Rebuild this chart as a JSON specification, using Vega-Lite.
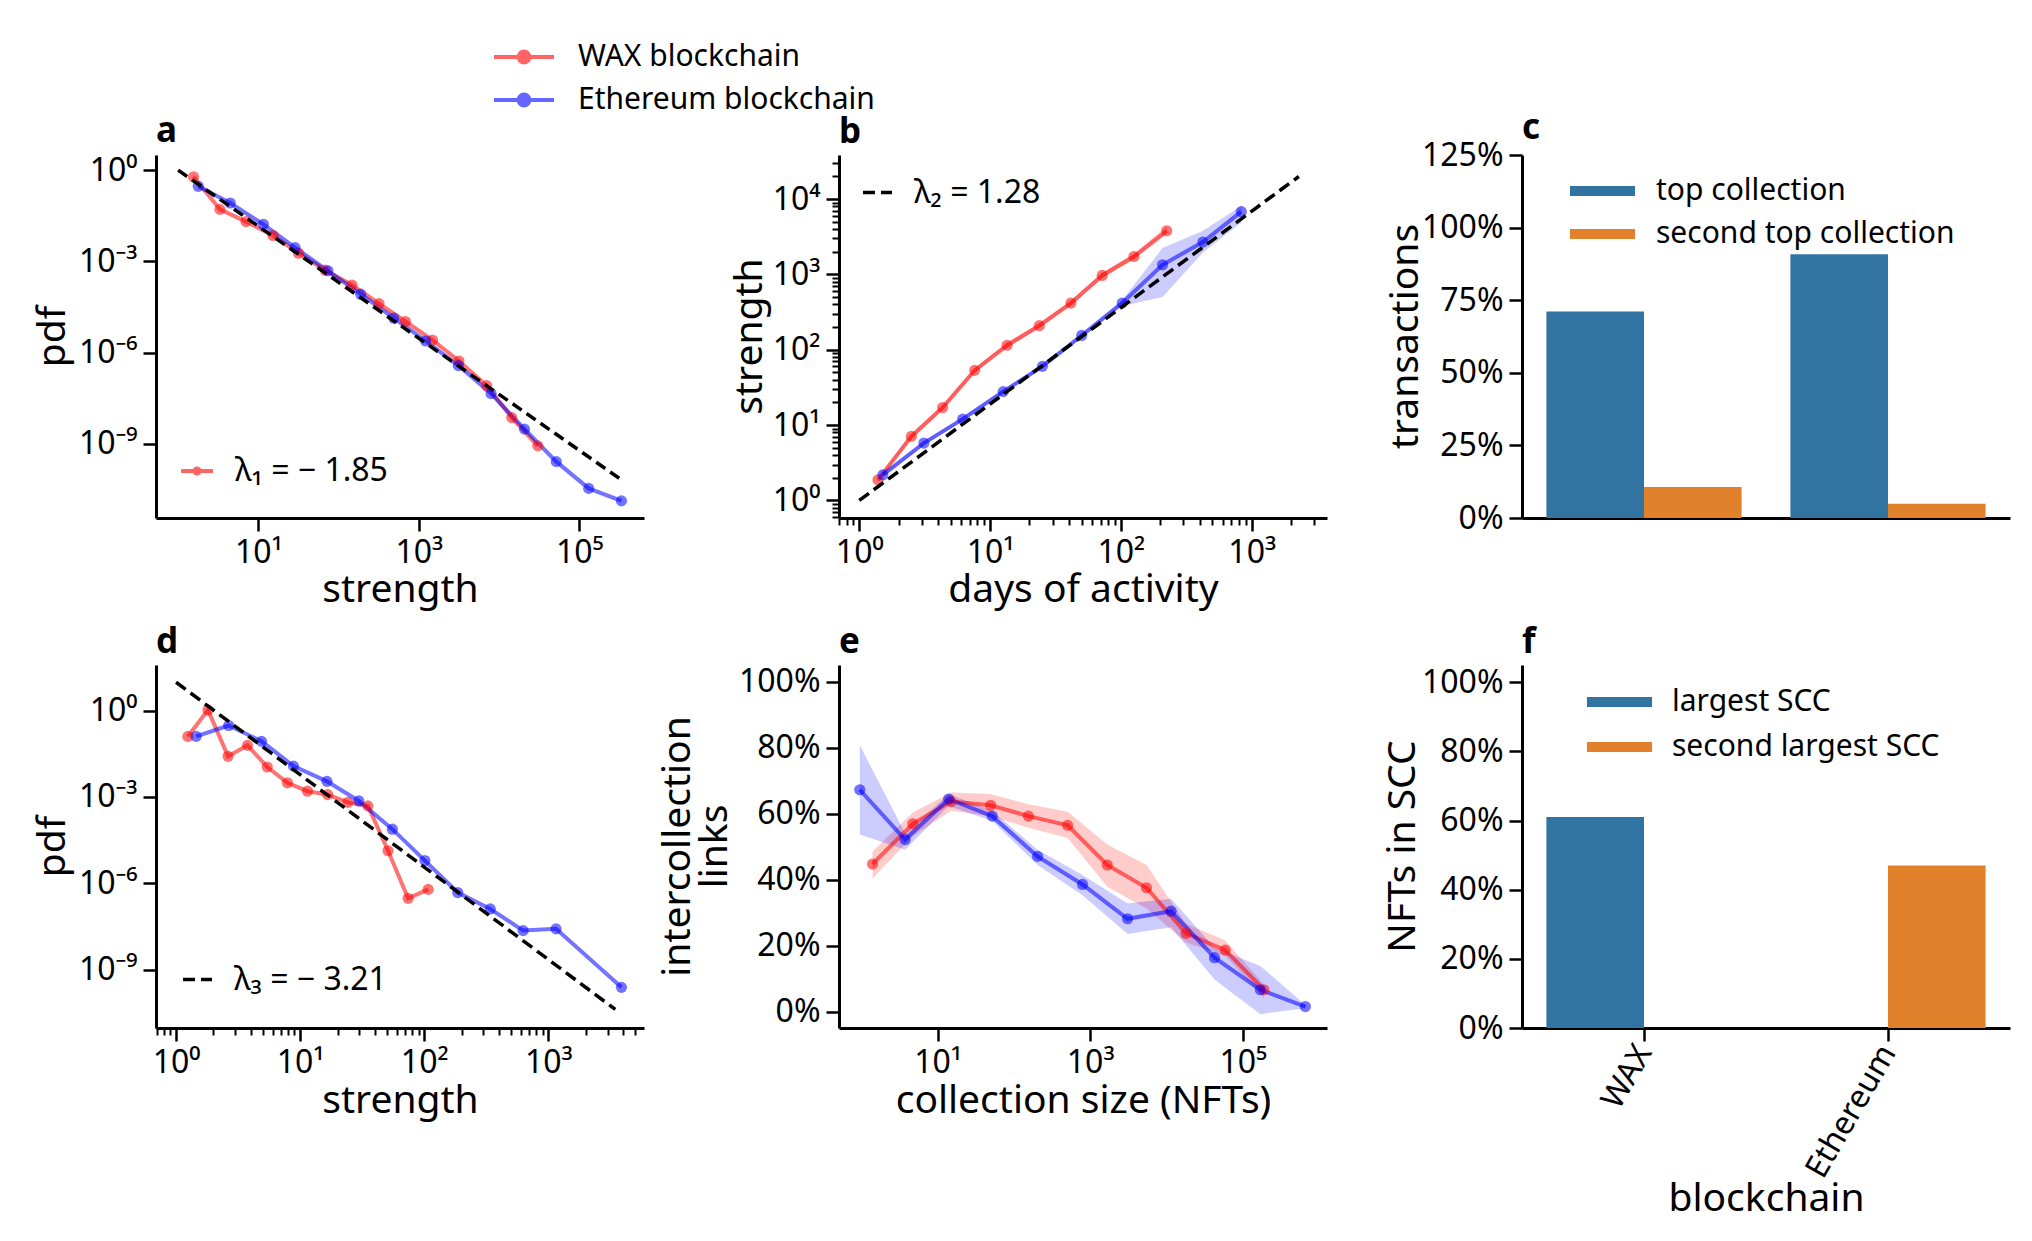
{
  "$schema": "https://vega.github.io/schema/vega-lite/v6.json",
  "padding": {"left": 33, "top": 40, "right": 20, "bottom": 26},
  "background": "white",
  "config": {
    "font": "Noto Sans",
    "view": {"stroke": null},
    "axis": {
      "grid": false,
      "domainColor": "#000",
      "domainWidth": 3,
      "tickColor": "#000",
      "tickWidth": 2.5,
      "tickSize": 13,
      "labelFontSize": 32,
      "labelColor": "#000",
      "labelPadding": 6,
      "labelOverlap": false,
      "labelFlush": false,
      "titleFontSize": 39,
      "titleFontWeight": "normal",
      "titleColor": "#000"
    },
    "legend": {
      "labelFontSize": 30,
      "labelColor": "#000",
      "labelLimit": 600,
      "padding": 0,
      "rowPadding": 4,
      "labelOffset": 20
    },
    "title": {"fontSize": 35, "fontWeight": "bold", "anchor": "start", "frame": "group", "offset": 5, "color": "#000"}
  },
  "datasets": {
    "a": [
      {"chain": "WAX blockchain", "x": 1.556, "y": 0.603},
      {"chain": "WAX blockchain", "x": 3.319, "y": 0.0513},
      {"chain": "WAX blockchain", "x": 7.015, "y": 0.0204},
      {"chain": "WAX blockchain", "x": 15.24, "y": 0.00708},
      {"chain": "WAX blockchain", "x": 31.62, "y": 0.00186},
      {"chain": "WAX blockchain", "x": 68.08, "y": 0.000513},
      {"chain": "WAX blockchain", "x": 146.9, "y": 0.000166},
      {"chain": "WAX blockchain", "x": 319.2, "y": 0.0000407},
      {"chain": "WAX blockchain", "x": 680.8, "y": 0.0000105},
      {"chain": "WAX blockchain", "x": 1483, "y": 2.57e-6},
      {"chain": "WAX blockchain", "x": 3162, "y": 5.25e-7},
      {"chain": "WAX blockchain", "x": 7015, "y": 8.13e-8},
      {"chain": "WAX blockchain", "x": 14390, "y": 7.24e-9},
      {"chain": "WAX blockchain", "x": 30410, "y": 8.51e-10},
      {"chain": "Ethereum blockchain", "x": 1.778, "y": 0.295},
      {"chain": "Ethereum blockchain", "x": 4.467, "y": 0.0832},
      {"chain": "Ethereum blockchain", "x": 11.55, "y": 0.0166},
      {"chain": "Ethereum blockchain", "x": 28.71, "y": 0.00282},
      {"chain": "Ethereum blockchain", "x": 73.62, "y": 0.00049},
      {"chain": "Ethereum blockchain", "x": 188.4, "y": 0.0000832},
      {"chain": "Ethereum blockchain", "x": 487.5, "y": 0.0000135},
      {"chain": "Ethereum blockchain", "x": 1211, "y": 2.4e-6},
      {"chain": "Ethereum blockchain", "x": 3105, "y": 3.72e-7},
      {"chain": "Ethereum blockchain", "x": 7943, "y": 4.47e-8},
      {"chain": "Ethereum blockchain", "x": 20750, "y": 3.02e-9},
      {"chain": "Ethereum blockchain", "x": 51640, "y": 2.57e-10},
      {"chain": "Ethereum blockchain", "x": 130900, "y": 3.39e-11},
      {"chain": "Ethereum blockchain", "x": 335000, "y": 1.32e-11}
    ],
    "a_fit": [
      {"label": "λ₁ = − 1.85", "x": 1, "y": 1},
      {"label": "λ₁ = − 1.85", "x": 335000, "y": 6.5e-11}
    ],
    "b": [
      {"chain": "WAX blockchain", "x": 1.39, "y": 1.875, "lo": 1.72, "hi": 2.04},
      {"chain": "WAX blockchain", "x": 2.5, "y": 7.08, "lo": 6.6, "hi": 7.6},
      {"chain": "WAX blockchain", "x": 4.335, "y": 17.1, "lo": 16.0, "hi": 18.3},
      {"chain": "WAX blockchain", "x": 7.62, "y": 53.3, "lo": 49.5, "hi": 57.5},
      {"chain": "WAX blockchain", "x": 13.49, "y": 114.8, "lo": 106, "hi": 124},
      {"chain": "WAX blockchain", "x": 23.77, "y": 208.9, "lo": 193, "hi": 226},
      {"chain": "WAX blockchain", "x": 41.5, "y": 416.9, "lo": 386, "hi": 450},
      {"chain": "WAX blockchain", "x": 71.9, "y": 970.4, "lo": 895, "hi": 1050},
      {"chain": "WAX blockchain", "x": 125.9, "y": 1730, "lo": 1580, "hi": 1900},
      {"chain": "WAX blockchain", "x": 223.9, "y": 3802, "lo": 3390, "hi": 4370},
      {"chain": "Ethereum blockchain", "x": 1.514, "y": 2.188, "lo": 2.05, "hi": 2.34},
      {"chain": "Ethereum blockchain", "x": 3.119, "y": 5.781, "lo": 5.45, "hi": 6.13},
      {"chain": "Ethereum blockchain", "x": 6.166, "y": 12.02, "lo": 11.3, "hi": 12.8},
      {"chain": "Ethereum blockchain", "x": 12.59, "y": 27.86, "lo": 26.2, "hi": 29.6},
      {"chain": "Ethereum blockchain", "x": 25.12, "y": 60.26, "lo": 56.5, "hi": 64.2},
      {"chain": "Ethereum blockchain", "x": 50.12, "y": 154.9, "lo": 145, "hi": 166},
      {"chain": "Ethereum blockchain", "x": 102.3, "y": 416.9, "lo": 380, "hi": 457},
      {"chain": "Ethereum blockchain", "x": 208.0, "y": 1343, "lo": 501, "hi": 2240},
      {"chain": "Ethereum blockchain", "x": 423.6, "y": 2692, "lo": 1950, "hi": 3802},
      {"chain": "Ethereum blockchain", "x": 831.8, "y": 6808, "lo": 4898, "hi": 8128}
    ],
    "b_fit": [
      {"label": "λ₂ = 1.28", "x": 1, "y": 1},
      {"label": "λ₂ = 1.28", "x": 2290, "y": 19950}
    ],
    "c": [
      {"chain": "WAX", "kind": "top collection", "v": 0.711},
      {"chain": "WAX", "kind": "second top collection", "v": 0.107},
      {"chain": "Ethereum", "kind": "top collection", "v": 0.908},
      {"chain": "Ethereum", "kind": "second top collection", "v": 0.049}
    ],
    "d": [
      {"chain": "WAX blockchain", "x": 1.245, "y": 0.126},
      {"chain": "WAX blockchain", "x": 1.807, "y": 1.047},
      {"chain": "WAX blockchain", "x": 2.624, "y": 0.0257},
      {"chain": "WAX blockchain", "x": 3.767, "y": 0.0617},
      {"chain": "WAX blockchain", "x": 5.433, "y": 0.01096},
      {"chain": "WAX blockchain", "x": 7.889, "y": 0.00309},
      {"chain": "WAX blockchain", "x": 11.46, "y": 0.00158},
      {"chain": "WAX blockchain", "x": 16.67, "y": 0.0012},
      {"chain": "WAX blockchain", "x": 24.21, "y": 0.000646},
      {"chain": "WAX blockchain", "x": 35.16, "y": 0.00049},
      {"chain": "WAX blockchain", "x": 51.05, "y": 0.0000135},
      {"chain": "WAX blockchain", "x": 74.13, "y": 3.02e-7},
      {"chain": "WAX blockchain", "x": 107.6, "y": 6.17e-7},
      {"chain": "Ethereum blockchain", "x": 1.452, "y": 0.126},
      {"chain": "Ethereum blockchain", "x": 2.655, "y": 0.302},
      {"chain": "Ethereum blockchain", "x": 4.887, "y": 0.0851},
      {"chain": "Ethereum blockchain", "x": 8.831, "y": 0.01175},
      {"chain": "Ethereum blockchain", "x": 16.44, "y": 0.00347},
      {"chain": "Ethereum blockchain", "x": 29.72, "y": 0.000724},
      {"chain": "Ethereum blockchain", "x": 55.34, "y": 0.0000759},
      {"chain": "Ethereum blockchain", "x": 101.2, "y": 6.17e-6},
      {"chain": "Ethereum blockchain", "x": 186.2, "y": 4.79e-7},
      {"chain": "Ethereum blockchain", "x": 340.4, "y": 1.29e-7},
      {"chain": "Ethereum blockchain", "x": 626.6, "y": 2.29e-8},
      {"chain": "Ethereum blockchain", "x": 1153, "y": 2.63e-8},
      {"chain": "Ethereum blockchain", "x": 3882, "y": 2.45e-10}
    ],
    "d_fit": [
      {"label": "λ₃ = − 3.21", "x": 1, "y": 9.55},
      {"label": "λ₃ = − 3.21", "x": 3467, "y": 4.2e-11}
    ],
    "e": [
      {"chain": "WAX blockchain", "x": 1.403, "y": 0.447, "lo": 0.403, "hi": 0.485},
      {"chain": "WAX blockchain", "x": 4.73, "y": 0.569, "lo": 0.531, "hi": 0.603},
      {"chain": "WAX blockchain", "x": 15.0, "y": 0.636, "lo": 0.608, "hi": 0.664},
      {"chain": "WAX blockchain", "x": 49.5, "y": 0.625, "lo": 0.592, "hi": 0.659},
      {"chain": "WAX blockchain", "x": 154.9, "y": 0.592, "lo": 0.557, "hi": 0.628},
      {"chain": "WAX blockchain", "x": 507, "y": 0.564, "lo": 0.526, "hi": 0.605},
      {"chain": "WAX blockchain", "x": 1675, "y": 0.444, "lo": 0.378, "hi": 0.506},
      {"chain": "WAX blockchain", "x": 5470, "y": 0.375, "lo": 0.312, "hi": 0.444},
      {"chain": "WAX blockchain", "x": 18070, "y": 0.237, "lo": 0.209, "hi": 0.266},
      {"chain": "WAX blockchain", "x": 58880, "y": 0.186, "lo": 0.169, "hi": 0.215},
      {"chain": "WAX blockchain", "x": 189200, "y": 0.066, "lo": 0.041, "hi": 0.082},
      {"chain": "Ethereum blockchain", "x": 0.955, "y": 0.672, "lo": 0.536, "hi": 0.807},
      {"chain": "Ethereum blockchain", "x": 3.75, "y": 0.521, "lo": 0.49, "hi": 0.54},
      {"chain": "Ethereum blockchain", "x": 13.96, "y": 0.644, "lo": 0.623, "hi": 0.659},
      {"chain": "Ethereum blockchain", "x": 52.0, "y": 0.592, "lo": 0.577, "hi": 0.608},
      {"chain": "Ethereum blockchain", "x": 204.2, "y": 0.47, "lo": 0.444, "hi": 0.49},
      {"chain": "Ethereum blockchain", "x": 794, "y": 0.385, "lo": 0.352, "hi": 0.414},
      {"chain": "Ethereum blockchain", "x": 3090, "y": 0.281, "lo": 0.235, "hi": 0.327},
      {"chain": "Ethereum blockchain", "x": 11480, "y": 0.304, "lo": 0.255, "hi": 0.342},
      {"chain": "Ethereum blockchain", "x": 42660, "y": 0.163, "lo": 0.097, "hi": 0.194},
      {"chain": "Ethereum blockchain", "x": 169800, "y": 0.066, "lo": -0.008, "hi": 0.138},
      {"chain": "Ethereum blockchain", "x": 660700, "y": 0.015, "lo": 0.01, "hi": 0.02}
    ],
    "f": [
      {"chain": "WAX", "kind": "largest SCC", "v": 0.61},
      {"chain": "WAX", "kind": "second largest SCC", "v": 0},
      {"chain": "Ethereum", "kind": "largest SCC", "v": 0},
      {"chain": "Ethereum", "kind": "second largest SCC", "v": 0.47}
    ]
  },
  "columns": 3,
  "spacing": {"row": 147, "column": 195},
  "bounds": "flush",
  "resolve": {"scale": {"fill": "independent", "strokeDash": "independent", "xOffset": "independent"}},
  "concat": [
    {
      "width": 488,
      "height": 363,
      "title": {"text": "a"},
      "resolve": {"axis": {"x": "independent", "y": "independent"}},
      "layer": [
        {
          "data": {"name": "a"},
          "mark": {"type": "line", "strokeWidth": 4, "opacity": 0.55},
          "encoding": {
            "x": {"field": "x", "type": "quantitative", "scale": {"type": "log", "domain": [0.53, 640000], "nice": false}, "axis": null},
            "y": {"field": "y", "type": "quantitative", "scale": {"type": "log", "domain": [3.6e-12, 3.16], "nice": false}, "axis": null},
            "color": {
              "field": "chain", "type": "nominal",
              "scale": {"domain": ["WAX blockchain", "Ethereum blockchain"], "range": ["#ff0000", "#0000ff"]},
              "legend": {
                "title": null, "orient": "none", "legendX": 351, "legendY": -115, "rowPadding": 11, "labelOffset": 37,
                "symbolType": "M-2,0H2M-0.36,0A0.36,0.36 0 1,0 0.36,0A0.36,0.36 0 1,0 -0.36,0Z",
                "symbolSize": 900, "symbolStrokeWidth": 4, "symbolOpacity": 0.6
              }
            }
          }
        },
        {
          "data": {"name": "a"},
          "mark": {"type": "circle", "size": 125, "opacity": 0.55},
          "encoding": {
            "x": {"field": "x", "type": "quantitative", "scale": {"type": "log", "domain": [0.53, 640000], "nice": false}, "axis": null},
            "y": {"field": "y", "type": "quantitative", "scale": {"type": "log", "domain": [3.6e-12, 3.16], "nice": false}, "axis": null},
            "color": {"field": "chain", "type": "nominal", "scale": {"domain": ["WAX blockchain", "Ethereum blockchain"], "range": ["#ff0000", "#0000ff"]}, "legend": null}
          }
        },
        {
          "data": {"name": "a_fit"},
          "mark": {"type": "point", "filled": false, "opacity": 0, "color": "#ff0000", "strokeWidth": 4},
          "encoding": {
            "x": {"field": "x", "type": "quantitative", "scale": {"type": "log", "domain": [0.53, 640000], "nice": false}, "axis": null},
            "y": {"field": "y", "type": "quantitative", "scale": {"type": "log", "domain": [3.6e-12, 3.16], "nice": false}, "axis": null},
            "shape": {
              "field": "label", "type": "nominal",
              "scale": {"domain": ["λ₁ = − 1.85"], "range": ["M-1,0H1M-0.16,0A0.16,0.16 0 1,0 0.16,0A0.16,0.16 0 1,0 -0.16,0Z"]},
              "legend": {
                "title": null, "orient": "none", "legendX": 23, "legendY": 298,
                "labelFontSize": 32,
                "symbolSize": 1024, "symbolStrokeWidth": 4, "symbolOpacity": 0.6,
                "symbolStrokeColor": "#ff0000", "symbolFillColor": "#ff0000"
              }
            }
          }
        },
        {
          "data": {"name": "a_fit"},
          "mark": {"type": "line", "strokeWidth": 3.5, "color": "#000", "strokeDash": [11, 6]},
          "encoding": {
            "x": {
              "field": "x", "type": "quantitative", "scale": {"type": "log", "domain": [0.53, 640000], "nice": false},
              "axis": {"orient": "bottom", "values": [10, 1000, 100000], "title": "strength", "titleX": 244, "titleY": 71, "titleBaseline": "middle",
                "labelExpr": "'10' + replace(replace(replace(replace(replace(replace(replace(replace(replace(replace(replace(replace(format(round(log(datum.value)/LN10),'d'),'−','⁻'),'-','⁻'),'0','⁰'),'1','¹'),'2','²'),'3','³'),'4','⁴'),'5','⁵'),'6','⁶'),'7','⁷'),'8','⁸'),'9','⁹')"}
            },
            "y": {
              "field": "y", "type": "quantitative", "scale": {"type": "log", "domain": [3.6e-12, 3.16], "nice": false},
              "axis": {"orient": "left", "values": [1, 0.001, 1e-6, 1e-9], "title": "pdf", "titleX": -104, "titleY": 181, "titleBaseline": "middle",
                "labelExpr": "'10' + replace(replace(replace(replace(replace(replace(replace(replace(replace(replace(replace(replace(format(round(log(datum.value)/LN10),'d'),'−','⁻'),'-','⁻'),'0','⁰'),'1','¹'),'2','²'),'3','³'),'4','⁴'),'5','⁵'),'6','⁶'),'7','⁷'),'8','⁸'),'9','⁹')"}
            }
          }
        }
      ]
    },
    {
      "width": 488,
      "height": 363,
      "title": {"text": "b"},
      "resolve": {"axis": {"x": "independent", "y": "independent"}},
      "layer": [
        {
          "data": {"name": "b"},
          "mark": {"type": "area", "opacity": 0.2},
          "encoding": {
            "x": {
              "field": "x", "type": "quantitative", "scale": {"type": "log", "domain": [0.7, 3760], "nice": false},
              "axis": {"orient": "bottom", "values": [0.7, 0.8, 0.9, 2, 3, 4, 5, 6, 7, 8, 9, 20, 30, 40, 50, 60, 70, 80, 90, 200, 300, 400, 500, 600, 700, 800, 900, 2000, 3000],
                "labels": false, "domain": false, "tickSize": 7, "tickWidth": 2, "title": null}
            },
            "y": {
              "field": "lo", "type": "quantitative", "scale": {"type": "log", "domain": [0.585, 38500], "nice": false},
              "axis": {"orient": "left", "values": [0.6, 0.7, 0.8, 0.9, 2, 3, 4, 5, 6, 7, 8, 9, 20, 30, 40, 50, 60, 70, 80, 90, 200, 300, 400, 500, 600, 700, 800, 900, 2000, 3000, 4000, 5000, 6000, 7000, 8000, 9000, 20000, 30000],
                "labels": false, "domain": false, "tickSize": 7, "tickWidth": 2, "title": null}
            },
            "y2": {"field": "hi"},
            "color": {"field": "chain", "type": "nominal", "scale": {"domain": ["WAX blockchain", "Ethereum blockchain"], "range": ["#ff0000", "#0000ff"]}, "legend": null}
          }
        },
        {
          "data": {"name": "b"},
          "mark": {"type": "line", "strokeWidth": 4, "opacity": 0.55},
          "encoding": {
            "x": {"field": "x", "type": "quantitative", "scale": {"type": "log", "domain": [0.7, 3760], "nice": false}, "axis": null},
            "y": {"field": "y", "type": "quantitative", "scale": {"type": "log", "domain": [0.585, 38500], "nice": false}, "axis": null},
            "color": {"field": "chain", "type": "nominal", "scale": {"domain": ["WAX blockchain", "Ethereum blockchain"], "range": ["#ff0000", "#0000ff"]}, "legend": null}
          }
        },
        {
          "data": {"name": "b"},
          "mark": {"type": "circle", "size": 125, "opacity": 0.55},
          "encoding": {
            "x": {"field": "x", "type": "quantitative", "scale": {"type": "log", "domain": [0.7, 3760], "nice": false}, "axis": null},
            "y": {"field": "y", "type": "quantitative", "scale": {"type": "log", "domain": [0.585, 38500], "nice": false}, "axis": null},
            "color": {"field": "chain", "type": "nominal", "scale": {"domain": ["WAX blockchain", "Ethereum blockchain"], "range": ["#ff0000", "#0000ff"]}, "legend": null}
          }
        },
        {
          "data": {"name": "b_fit"},
          "mark": {"type": "line", "strokeWidth": 3.5, "color": "#000"},
          "encoding": {
            "x": {
              "field": "x", "type": "quantitative", "scale": {"type": "log", "domain": [0.7, 3760], "nice": false},
              "axis": {"orient": "bottom", "values": [1, 10, 100, 1000], "title": "days of activity", "titleX": 244, "titleY": 71, "titleBaseline": "middle",
                "labelExpr": "'10' + replace(replace(replace(replace(replace(replace(replace(replace(replace(replace(replace(replace(format(round(log(datum.value)/LN10),'d'),'−','⁻'),'-','⁻'),'0','⁰'),'1','¹'),'2','²'),'3','³'),'4','⁴'),'5','⁵'),'6','⁶'),'7','⁷'),'8','⁸'),'9','⁹')"}
            },
            "y": {
              "field": "y", "type": "quantitative", "scale": {"type": "log", "domain": [0.585, 38500], "nice": false},
              "axis": {"orient": "left", "values": [1, 10, 100, 1000, 10000], "title": "strength", "titleX": -90, "titleY": 181, "titleBaseline": "middle",
                "labelExpr": "'10' + replace(replace(replace(replace(replace(replace(replace(replace(replace(replace(replace(replace(format(round(log(datum.value)/LN10),'d'),'−','⁻'),'-','⁻'),'0','⁰'),'1','¹'),'2','²'),'3','³'),'4','⁴'),'5','⁵'),'6','⁶'),'7','⁷'),'8','⁸'),'9','⁹')"}
            },
            "strokeDash": {
              "field": "label", "type": "nominal",
              "scale": {"domain": ["λ₂ = 1.28"], "range": [[12, 6]]},
              "legend": {
                "title": null, "orient": "none", "legendX": 22, "legendY": 21,
                "labelFontSize": 32,
                "symbolType": "M-1,0H1", "symbolSize": 841, "symbolStrokeWidth": 3.5
              }
            }
          }
        }
      ]
    },
    {
      "width": 488,
      "height": 363,
      "title": {"text": "c", "dy": 12},
      "data": {"name": "c"},
      "mark": {"type": "bar", "width": {"band": 1}},
      "encoding": {
        "x": {
          "field": "chain", "type": "nominal", "sort": ["WAX", "Ethereum"],
          "scale": {"paddingInner": 0.2, "paddingOuter": 0.1},
          "axis": {"labels": false, "ticks": false, "title": null}
        },
        "xOffset": {"field": "kind", "type": "nominal", "sort": ["top collection", "second top collection"], "scale": {"paddingInner": 0, "paddingOuter": 0}},
        "y": {
          "field": "v", "type": "quantitative", "scale": {"domain": [0, 1.25], "nice": false},
          "axis": {"values": [0, 0.25, 0.5, 0.75, 1, 1.25], "format": ".0%", "title": "transactions", "titleX": -117, "titleY": 181, "titleBaseline": "middle"}
        },
        "fill": {
          "field": "kind", "type": "nominal",
          "scale": {"domain": ["top collection", "second top collection"], "range": ["#3274a1", "#e1812c"]},
          "legend": {
            "title": null, "orient": "none", "legendX": 65.5, "legendY": 21, "labelOffset": 38.5,
            "symbolType": "M-2.17,-0.33H2.17V0.33H-2.17Z", "symbolSize": 900, "symbolStrokeWidth": 0, "rowPadding": 13
          }
        }
      }
    },
    {
      "width": 488,
      "height": 363,
      "title": {"text": "d"},
      "resolve": {"axis": {"x": "independent", "y": "independent"}},
      "layer": [
        {
          "data": {"name": "d"},
          "mark": {"type": "line", "strokeWidth": 4, "opacity": 0.55},
          "encoding": {
            "x": {
              "field": "x", "type": "quantitative", "scale": {"type": "log", "domain": [0.689, 5900], "nice": false},
              "axis": {"orient": "bottom", "values": [0.7, 0.8, 0.9, 2, 3, 4, 5, 6, 7, 8, 9, 20, 30, 40, 50, 60, 70, 80, 90, 200, 300, 400, 500, 600, 700, 800, 900, 2000, 3000, 4000, 5000],
                "labels": false, "domain": false, "tickSize": 7, "tickWidth": 2, "title": null}
            },
            "y": {"field": "y", "type": "quantitative", "scale": {"type": "log", "domain": [9.5e-12, 38], "nice": false}, "axis": null},
            "color": {"field": "chain", "type": "nominal", "scale": {"domain": ["WAX blockchain", "Ethereum blockchain"], "range": ["#ff0000", "#0000ff"]}, "legend": null}
          }
        },
        {
          "data": {"name": "d"},
          "mark": {"type": "circle", "size": 125, "opacity": 0.55},
          "encoding": {
            "x": {"field": "x", "type": "quantitative", "scale": {"type": "log", "domain": [0.689, 5900], "nice": false}, "axis": null},
            "y": {"field": "y", "type": "quantitative", "scale": {"type": "log", "domain": [9.5e-12, 38], "nice": false}, "axis": null},
            "color": {"field": "chain", "type": "nominal", "scale": {"domain": ["WAX blockchain", "Ethereum blockchain"], "range": ["#ff0000", "#0000ff"]}, "legend": null}
          }
        },
        {
          "data": {"name": "d_fit"},
          "mark": {"type": "line", "strokeWidth": 3.5, "color": "#000"},
          "encoding": {
            "x": {
              "field": "x", "type": "quantitative", "scale": {"type": "log", "domain": [0.689, 5900], "nice": false},
              "axis": {"orient": "bottom", "values": [1, 10, 100, 1000], "title": "strength", "titleX": 244, "titleY": 72, "titleBaseline": "middle",
                "labelExpr": "'10' + replace(replace(replace(replace(replace(replace(replace(replace(replace(replace(replace(replace(format(round(log(datum.value)/LN10),'d'),'−','⁻'),'-','⁻'),'0','⁰'),'1','¹'),'2','²'),'3','³'),'4','⁴'),'5','⁵'),'6','⁶'),'7','⁷'),'8','⁸'),'9','⁹')"}
            },
            "y": {
              "field": "y", "type": "quantitative", "scale": {"type": "log", "domain": [9.5e-12, 38], "nice": false},
              "axis": {"orient": "left", "values": [1, 0.001, 1e-6, 1e-9], "title": "pdf", "titleX": -104, "titleY": 181, "titleBaseline": "middle",
                "labelExpr": "'10' + replace(replace(replace(replace(replace(replace(replace(replace(replace(replace(replace(replace(format(round(log(datum.value)/LN10),'d'),'−','⁻'),'-','⁻'),'0','⁰'),'1','¹'),'2','²'),'3','³'),'4','⁴'),'5','⁵'),'6','⁶'),'7','⁷'),'8','⁸'),'9','⁹')"}
            },
            "strokeDash": {
              "field": "label", "type": "nominal",
              "scale": {"domain": ["λ₃ = − 3.21"], "range": [[12, 6]]},
              "legend": {
                "title": null, "orient": "none", "legendX": 25, "legendY": 298,
                "labelFontSize": 32,
                "symbolType": "M-1,0H1", "symbolSize": 841, "symbolStrokeWidth": 3.5
              }
            }
          }
        }
      ]
    },
    {
      "width": 488,
      "height": 363,
      "title": {"text": "e"},
      "resolve": {"axis": {"x": "independent", "y": "independent"}},
      "layer": [
        {
          "data": {"name": "e"},
          "mark": {"type": "area", "opacity": 0.2},
          "encoding": {
            "x": {"field": "x", "type": "quantitative", "scale": {"type": "log", "domain": [0.51, 1270000], "nice": false}, "axis": null},
            "y": {"field": "lo", "type": "quantitative", "scale": {"domain": [-0.05, 1.05], "nice": false, "zero": false}, "axis": null},
            "y2": {"field": "hi"},
            "color": {"field": "chain", "type": "nominal", "scale": {"domain": ["WAX blockchain", "Ethereum blockchain"], "range": ["#ff0000", "#0000ff"]}, "legend": null}
          }
        },
        {
          "data": {"name": "e"},
          "mark": {"type": "line", "strokeWidth": 4, "opacity": 0.55},
          "encoding": {
            "x": {"field": "x", "type": "quantitative", "scale": {"type": "log", "domain": [0.51, 1270000], "nice": false}, "axis": null},
            "y": {"field": "y", "type": "quantitative", "scale": {"domain": [-0.05, 1.05], "nice": false, "zero": false}, "axis": null},
            "color": {"field": "chain", "type": "nominal", "scale": {"domain": ["WAX blockchain", "Ethereum blockchain"], "range": ["#ff0000", "#0000ff"]}, "legend": null}
          }
        },
        {
          "data": {"name": "e"},
          "mark": {"type": "circle", "size": 125, "opacity": 0.55},
          "encoding": {
            "x": {
              "field": "x", "type": "quantitative", "scale": {"type": "log", "domain": [0.51, 1270000], "nice": false},
              "axis": {"orient": "bottom", "values": [10, 1000, 100000], "title": "collection size (NFTs)", "titleX": 244, "titleY": 72, "titleBaseline": "middle",
                "labelExpr": "'10' + replace(replace(replace(replace(replace(replace(replace(replace(replace(replace(replace(replace(format(round(log(datum.value)/LN10),'d'),'−','⁻'),'-','⁻'),'0','⁰'),'1','¹'),'2','²'),'3','³'),'4','⁴'),'5','⁵'),'6','⁶'),'7','⁷'),'8','⁸'),'9','⁹')"}
            },
            "y": {
              "field": "y", "type": "quantitative", "scale": {"domain": [-0.05, 1.05], "nice": false, "zero": false},
              "axis": {"orient": "left", "values": [0, 0.2, 0.4, 0.6, 0.8, 1], "format": ".0%", "title": ["intercollection", "links"], "titleX": -162, "titleY": 181, "titleBaseline": "middle", "titleLineHeight": 37}
            },
            "color": {"field": "chain", "type": "nominal", "scale": {"domain": ["WAX blockchain", "Ethereum blockchain"], "range": ["#ff0000", "#0000ff"]}, "legend": null}
          }
        }
      ]
    },
    {
      "width": 488,
      "height": 363,
      "title": {"text": "f"},
      "data": {"name": "f"},
      "mark": {"type": "bar", "width": {"band": 1}},
      "encoding": {
        "x": {
          "field": "chain", "type": "nominal", "sort": ["WAX", "Ethereum"],
          "scale": {"paddingInner": 0.2, "paddingOuter": 0.1},
          "axis": {"labelAngle": -60, "title": "blockchain", "titleX": 244, "titleY": 170, "titleBaseline": "middle"}
        },
        "xOffset": {"field": "kind", "type": "nominal", "sort": ["largest SCC", "second largest SCC"], "scale": {"paddingInner": 0, "paddingOuter": 0}},
        "y": {
          "field": "v", "type": "quantitative", "scale": {"domain": [0, 1.05], "nice": false},
          "axis": {"values": [0, 0.2, 0.4, 0.6, 0.8, 1], "format": ".0%", "title": "NFTs in SCC", "titleX": -120, "titleY": 181, "titleBaseline": "middle"}
        },
        "fill": {
          "field": "kind", "type": "nominal",
          "scale": {"domain": ["largest SCC", "second largest SCC"], "range": ["#3274a1", "#e1812c"]},
          "legend": {
            "title": null, "orient": "none", "legendX": 82.5, "legendY": 22, "labelOffset": 37.5,
            "symbolType": "M-2.17,-0.33H2.17V0.33H-2.17Z", "symbolSize": 900, "symbolStrokeWidth": 0, "rowPadding": 15
          }
        }
      }
    }
  ]
}
